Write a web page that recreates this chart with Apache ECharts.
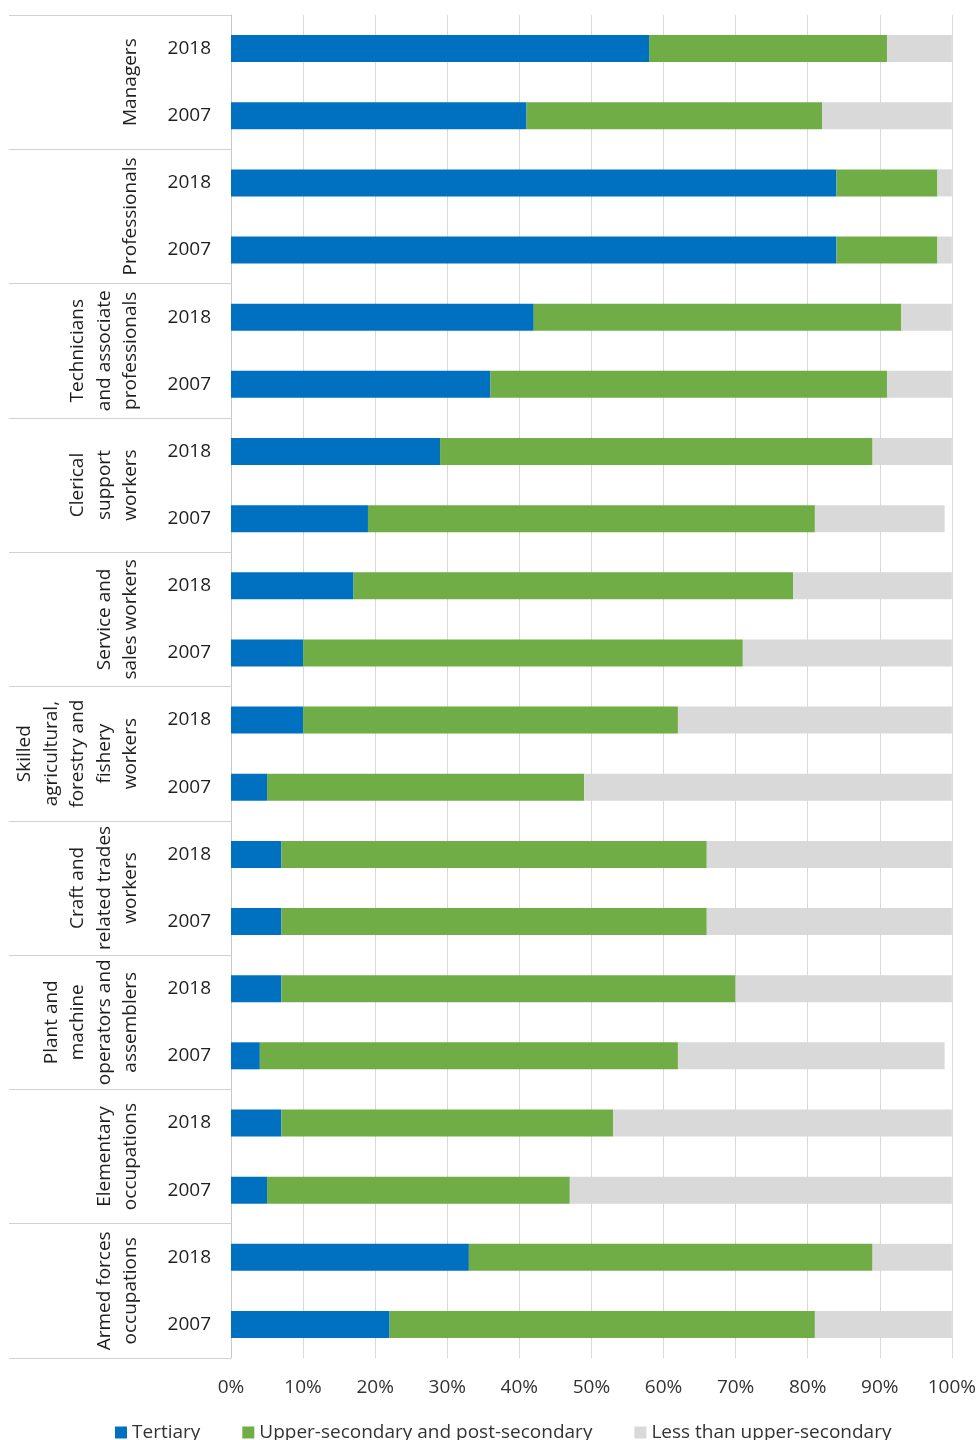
<!DOCTYPE html>
<html>
<head>
<meta charset="utf-8">
<script src="https://cdn.jsdelivr.net/npm/echarts@6/dist/echarts.min.js"></script>
<style>
html,body{margin:0;padding:0;background:#fff;}
#chart{width:979px;height:1440px;}
</style>
</head>
<body>
<div id="chart"></div>
<script>
// Occupation groups (top to bottom)
const occupations = [
  "Managers",
  "Professionals",
  "Technicians\nand associate\nprofessionals",
  "Clerical\nsupport\nworkers",
  "Service and\nsales workers",
  "Skilled\nagricultural,\nforestry and\nfishery\nworkers",
  "Craft and\nrelated trades\nworkers",
  "Plant and\nmachine\noperators and\nassemblers",
  "Elementary\noccupations",
  "Armed forces\noccupations"
];
const years = ["2018", "2007"];

// Shares (%) per occupation, 2018
const tertiary2018 = [58, 84, 42, 29, 17, 10, 7, 7, 7, 33];
const upperSec2018 = [33, 14, 51, 60, 61, 52, 59, 63, 46, 56];
const lessUpper2018 = [9, 2, 7, 11, 22, 38, 34, 30, 47, 11];

// Shares (%) per occupation, 2007
const tertiary2007 = [41, 84, 36, 19, 10, 5, 7, 4, 5, 22];
const upperSec2007 = [41, 14, 55, 62, 61, 44, 59, 58, 42, 59];
const lessUpper2007 = [18, 2, 9, 18, 29, 51, 34, 37, 53, 19];

const xTicks = [0, 10, 20, 30, 40, 50, 60, 70, 80, 90, 100];

const seriesNames = ["Tertiary", "Upper-secondary and post-secondary", "Less than upper-secondary"];
const colors = ["#0070C0", "#70AD47", "#D9D9D9"];

// Build rows: each occupation -> 2018, 2007
const rowCats = [];
const tData = [], uData = [], lData = [];
occupations.forEach((o, i) => {
  years.forEach(y => {
    rowCats.push(i + "_" + y);
    if (y === "2018") {
      tData.push(tertiary2018[i]); uData.push(upperSec2018[i]); lData.push(lessUpper2018[i]);
    } else {
      tData.push(tertiary2007[i]); uData.push(upperSec2007[i]); lData.push(lessUpper2007[i]);
    }
  });
});

const FONT = "'Open Sans', 'Noto Sans', sans-serif";
const chart = echarts.init(document.getElementById('chart'), null, {renderer: 'canvas'});
chart.setOption({
  animation: false,
  backgroundColor: '#ffffff',
  textStyle: {fontFamily: FONT},
  color: colors,
  grid: {left: 231, right: 25, top: 15, bottom: 82, containLabel: false},
  legend: {
    data: seriesNames,
    left: 110,
    top: 1418,
    icon: 'rect',
    itemWidth: 12,
    itemHeight: 12,
    itemGap: 42,
    textStyle: {fontFamily: FONT, fontSize: 19, color: '#333333'}
  },
  xAxis: {
    type: 'value',
    min: xTicks[0],
    max: xTicks[xTicks.length - 1],
    interval: 10,
    axisLine: {show: false},
    axisTick: {show: false},
    axisLabel: {formatter: '{value}%', fontFamily: FONT, fontSize: 19, color: '#333333', margin: 20},
    splitLine: {show: true, lineStyle: {color: '#D9D9D9', width: 1}}
  },
  yAxis: [
    {
      type: 'category',
      data: rowCats,
      inverse: true,
      position: 'left',
      axisLine: {show: true, lineStyle: {color: '#C8C8C8', width: 1}},
      axisTick: {show: false},
      axisLabel: {
        interval: 0,
        margin: 20,
        fontFamily: FONT,
        fontSize: 19,
        color: '#1F1F1F',
        formatter: v => v.split('_')[1]
      }
    },
    {
      type: 'category',
      data: occupations,
      inverse: true,
      position: 'left',
      offset: 0,
      axisLine: {show: false},
      axisTick: {show: true, interval: 0, length: 222, lineStyle: {color: '#D0D0D0', width: 1}},
      axisLabel: {
        interval: 0,
        rotate: 90,
        margin: 87,
        lineHeight: 26.5,
        fontFamily: FONT,
        fontSize: 19,
        color: '#1F1F1F'
      },
      splitLine: {show: false}
    }
  ],
  series: [
    {name: seriesNames[0], type: 'bar', stack: 'total', yAxisIndex: 0, barWidth: 27, data: tData, itemStyle: {color: colors[0]}},
    {name: seriesNames[1], type: 'bar', stack: 'total', yAxisIndex: 0, barWidth: 27, data: uData, itemStyle: {color: colors[1]}},
    {name: seriesNames[2], type: 'bar', stack: 'total', yAxisIndex: 0, barWidth: 27, data: lData, itemStyle: {color: colors[2]}}
  ]
});
</script>
</body>
</html>
